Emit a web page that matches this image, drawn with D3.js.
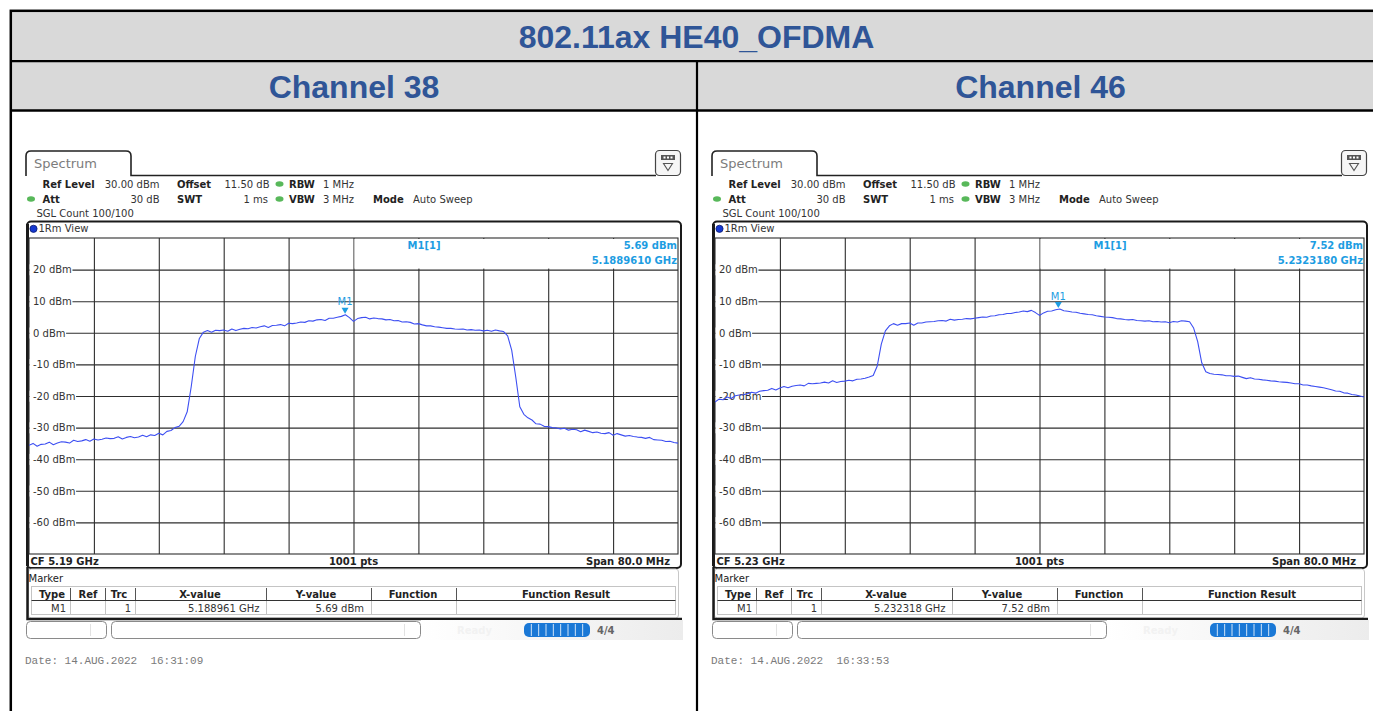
<!DOCTYPE html>
<html>
<head>
<meta charset="utf-8">
<script src="https://cdn.jsdelivr.net/npm/d3@7"></script>
<style>
    html, body { margin: 0; padding: 0; background: #fff; }
    svg { display: block; }
    .ui { font-family: "DejaVu Sans", Verdana, sans-serif; font-size: 10px; fill: #333; }
    .b { font-family: "DejaVu Sans", Verdana, sans-serif; font-size: 10px; font-weight: bold; fill: #222; }
    .mk { font-family: "DejaVu Sans", Verdana, sans-serif; font-size: 10px; font-weight: bold; fill: #1d9de2; }
    .date { font-family: "Liberation Mono", "DejaVu Sans Mono", monospace; font-size: 11px; fill: #7a7a7a; white-space: pre; }
    .head { font-family: "Liberation Sans", Arial, sans-serif; font-weight: bold; font-size: 32px; fill: #2f5597; }
</style>
</head>
<body>
<svg id="page" width="1373" height="711"></svg>
<script>
    // ---- chart data ----
    const pageTitle = "802.11ax HE40_OFDMA";
    const channelNames = ["Channel 38", "Channel 46"];
    const centerFreqsGHz = [5.19, 5.23];
    const spanMHz = 80;
    const sweepPoints = 1001;
    const traceStepMHz = 0.5;   // trace values below are read every 0.5 MHz from -40 to +40 MHz

    const ch38Level = [
        -35.6, -35.0, -35.9, -35.3, -35.2, -34.6, -35.4, -34.9, -34.5, -34.6,
        -34.9, -34.0, -34.4, -34.2, -33.8, -34.3, -33.6, -33.9, -33.7, -33.3,
        -33.5, -33.4, -32.9, -33.6, -33.1, -32.8, -33.2, -33.0, -32.4, -32.9,
        -32.3, -32.5, -31.8, -32.3, -31.2, -30.9, -30.0, -29.6, -28.1, -25.0,
        -17.0, -7.5, -1.8, 0.2, 0.7, 0.2, 0.8, 0.7, 0.9, 0.5,
        1.2, 0.7, 1.1, 1.4, 1.3, 1.7, 1.5, 1.9, 2.2, 1.7,
        2.3, 2.4, 2.6, 2.2, 3.0, 2.9, 3.1, 3.4, 3.3, 3.8,
        3.7, 4.1, 4.2, 3.9, 4.6, 4.6, 4.9, 5.2, 5.69, 4.8,
        3.6, 4.5, 4.8, 4.9, 4.4, 4.7, 4.5, 4.4, 4.1, 4.2,
        3.8, 3.9, 3.4, 3.5, 3.3, 2.8, 2.9, 2.5, 2.2, 2.2,
        1.9, 1.8, 1.6, 1.4, 1.4, 1.2, 1.1, 1.2, 0.9, 1.0,
        0.8, 0.9, 0.6, 0.8, 0.5, 0.9, 0.6, 0.4, -1.0, -5.5,
        -14.0, -23.4, -25.8, -26.9, -27.6, -28.8, -28.9, -29.6, -29.7, -30.0,
        -30.1, -30.4, -30.2, -30.8, -30.5, -30.7, -31.3, -30.8, -31.2, -31.6,
        -31.4, -31.8, -31.9, -31.6, -32.4, -31.9, -32.3, -32.7, -32.5, -32.8,
        -33.0, -33.1, -33.4, -33.1, -33.8, -33.9, -34.0, -34.4, -34.3, -34.7,
        -34.9
    ];

    const ch46Level = [
        -21.9, -21.0, -21.2, -20.3, -20.8, -19.9, -19.7, -19.6, -19.3, -18.8,
        -19.1, -18.5, -18.3, -18.2, -17.6, -18.1, -17.5, -17.0, -17.4, -16.9,
        -16.7, -16.5, -16.8, -16.0, -16.1, -16.0, -15.9, -15.6, -15.9, -15.2,
        -15.7, -15.4, -15.3, -15.0, -15.2, -14.7, -14.6, -14.4, -14.0, -13.5,
        -10.5, -3.6, 0.6, 2.2, 2.9, 2.4, 2.9, 2.9, 3.1, 2.4,
        3.1, 3.1, 3.4, 3.5, 3.6, 3.8, 3.9, 3.7, 4.3, 4.0,
        4.2, 4.3, 4.5, 4.4, 4.6, 4.8, 5.0, 4.9, 5.3, 5.4,
        5.7, 5.8, 6.1, 6.1, 6.4, 6.6, 6.9, 6.7, 7.1, 6.4,
        5.5, 6.3, 6.8, 6.9, 7.3, 7.52, 7.0, 6.8, 6.6, 6.5,
        6.2, 6.0, 5.8, 5.7, 5.4, 5.2, 5.0, 4.9, 4.8, 4.5,
        4.4, 4.2, 4.1, 4.2, 3.9, 3.8, 3.7, 3.8, 3.5, 3.6,
        3.4, 3.5, 3.2, 3.6, 3.4, 3.8, 3.7, 3.5, 1.5, -2.8,
        -9.5, -12.3, -12.9, -13.1, -13.2, -13.3, -13.6, -13.6, -13.8, -13.7,
        -14.1, -14.5, -14.2, -14.6, -14.7, -14.9, -15.0, -15.2, -15.3, -15.5,
        -15.6, -15.7, -15.9, -16.1, -16.1, -16.5, -16.5, -16.8, -17.0, -17.2,
        -17.4, -17.7, -18.0, -18.4, -18.5, -19.0, -19.1, -19.5, -19.7, -20.0,
        -20.3
    ];

    const markerFreqsGHz = [5.188961, 5.232318];
    const markerLevels = [5.69, 7.52];
    const sweepDates = ["14.AUG.2022  16:31:09", "14.AUG.2022  16:33:53"];
    const yDomain = [-70, 30];
    const yTickValues = [20, 10, 0, -10, -20, -30, -40, -50, -60];

    const traceColor = "#3d4ff2";
    const gridColor = "#2e2e2e";

    const svg = d3.select("#page");

    function text(g, x, y, s, cls, anchor) {
        return g.append("text")
            .attr("x", x).attr("y", y).attr("dy", "0.35em")
            .attr("class", cls)
            .attr("text-anchor", anchor || "start")
            .text(s);
    }

    function greenDot(g, cx, cy) {
        g.append("ellipse").attr("cx", cx).attr("cy", cy).attr("rx", 4).attr("ry", 2.8)
            .attr("fill", "#58b85a");
    }

    // ---- page table ----
    function drawPage() {
        svg.append("rect").attr("x", 11).attr("y", 11).attr("width", 1380).attr("height", 99)
            .attr("fill", "#d9d9d9");
        svg.append("rect").attr("x", 10.8).attr("y", 10.8).attr("width", 1380).attr("height", 720)
            .attr("fill", "none").attr("stroke", "#000").attr("stroke-width", 2.5);
        svg.append("line").attr("x1", 10).attr("x2", 1390).attr("y1", 61.2).attr("y2", 61.2)
            .attr("stroke", "#000").attr("stroke-width", 2.2);
        svg.append("line").attr("x1", 10).attr("x2", 1390).attr("y1", 110.5).attr("y2", 110.5)
            .attr("stroke", "#000").attr("stroke-width", 2.4);
        svg.append("line").attr("x1", 697).attr("x2", 697).attr("y1", 61).attr("y2", 711)
            .attr("stroke", "#000").attr("stroke-width", 2.2);

        svg.append("text").attr("class", "head").attr("x", 696.5).attr("y", 47.5)
            .attr("text-anchor", "middle").text(pageTitle);
        svg.append("text").attr("class", "head").attr("x", 354).attr("y", 97.5)
            .attr("text-anchor", "middle").text(channelNames[0]);
        svg.append("text").attr("class", "head").attr("x", 1040.5).attr("y", 97.5)
            .attr("text-anchor", "middle").text(channelNames[1]);
    }

    // ---- one analyzer screenshot ----
    function drawPanel(ox, idx) {
        const g = svg.append("g").attr("transform", "translate(" + ox + ",0)");
        const cf = centerFreqsGHz[idx];
        const levels = idx === 0 ? ch38Level : ch46Level;
        const f0 = cf - spanMHz / 2000, f1 = cf + spanMHz / 2000;

        const x = d3.scaleLinear().domain([f0, f1]).range([29, 678]);
        const y = d3.scaleLinear().domain(yDomain).range([554, 238]);

        // tab + header line
        g.append("path")
            .attr("d", "M26,176 L26,156 Q26,151 31,151 L126,151 Q131,151 131,156 L131,175.5 L656,175.5")
            .attr("fill", "none").attr("stroke", "#222").attr("stroke-width", 1.6);
        g.append("text").attr("x", 34).attr("y", 163).attr("dy", "0.35em")
            .attr("class", "ui").style("font-size", "13px").style("fill", "#7c7c7c").text("Spectrum");

        // menu icon
        g.append("rect").attr("x", 655.5).attr("y", 150.5).attr("width", 25).attr("height", 25).attr("rx", 4)
            .attr("fill", "#f6f6f6").attr("stroke", "#444").attr("stroke-width", 1.2);
        g.append("rect").attr("x", 661).attr("y", 155).attr("width", 14).attr("height", 5).attr("fill", "#555");
        [663.5, 667, 670.5].forEach(cx => g.append("rect").attr("x", cx).attr("y", 156.5)
            .attr("width", 2).attr("height", 2).attr("fill", "#fff"));
        g.append("path").attr("d", "M663.5,163.5 L672.5,163.5 L668,170.5 Z")
            .attr("fill", "none").attr("stroke", "#555").attr("stroke-width", 1.1);

        // settings block
        text(g, 42.5, 184, "Ref Level", "b");
        text(g, 159.5, 184, "30.00 dBm", "ui", "end");
        text(g, 177, 184, "Offset", "b");
        text(g, 269.5, 184, "11.50 dB", "ui", "end");
        greenDot(g, 279.5, 184);
        text(g, 289, 184, "RBW", "b");
        text(g, 323, 184, "1 MHz", "ui");

        greenDot(g, 31, 199);
        text(g, 42.5, 199, "Att", "b");
        text(g, 159.5, 199, "30 dB", "ui", "end");
        text(g, 177, 199, "SWT", "b");
        text(g, 268, 199, "1 ms", "ui", "end");
        greenDot(g, 279.5, 199);
        text(g, 289, 199, "VBW", "b");
        text(g, 323, 199, "3 MHz", "ui");
        text(g, 373, 199, "Mode", "b");
        text(g, 413, 199, "Auto Sweep", "ui");

        text(g, 36.5, 213.5, "SGL Count 100/100", "ui");

        // plot window frame
        g.append("rect").attr("x", 27).attr("y", 221.5).attr("width", 654).attr("height", 346.5).attr("rx", 4)
            .attr("fill", "#fff").attr("stroke", "#1a1a1a").attr("stroke-width", 2);
        g.append("line").attr("x1", 27.5).attr("x2", 27.5).attr("y1", 224).attr("y2", 566)
            .attr("stroke", "#1a1a1a").attr("stroke-width", 3);
        g.append("circle").attr("cx", 33.5).attr("cy", 228.8).attr("r", 3.6)
            .attr("fill", "#1538d0").attr("stroke", "#0a1a70").attr("stroke-width", 0.8);
        text(g, 38.5, 228.8, "1Rm View", "ui");

        // grid
        const xGrid = d3.range(1, 10).map(i => f0 + i * (f1 - f0) / 10);
        g.append("g").attr("transform", "translate(0,554)")
            .call(d3.axisBottom(x).tickValues(xGrid).tickSize(-316).tickFormat(""))
            .call(a => a.select(".domain").remove())
            .selectAll("line").attr("stroke", gridColor).attr("stroke-width", 1.1);
        g.append("g").attr("transform", "translate(29,0)")
            .call(d3.axisLeft(y).tickValues(yTickValues).tickSize(-649).tickFormat(""))
            .call(a => a.select(".domain").remove())
            .selectAll("line").attr("stroke", gridColor).attr("stroke-width", 1.1);
        g.append("rect").attr("x", 29).attr("y", 238).attr("width", 649).attr("height", 316)
            .attr("fill", "none").attr("stroke", gridColor).attr("stroke-width", 1.1);

        // marker readout area covers the upper right cell
        g.append("rect").attr("x", x(cf) + 1).attr("y", 239).attr("width", 678 - x(cf) - 2)
            .attr("height", y(20) - 240).attr("fill", "#fff");
        text(g, x(cf) + 70.5, 245, "M1[1]", "mk", "middle");
        text(g, 677, 245, markerLevels[idx].toFixed(2) + " dBm", "mk", "end");
        text(g, 677, 260, markerFreqsGHz[idx].toFixed(7) + " GHz", "mk", "end");

        // level labels inside the grid
        const yAx = g.append("g").attr("transform", "translate(29,0)")
            .call(d3.axisRight(y).tickValues(yTickValues).tickSize(0).tickPadding(4)
                .tickFormat(d => d + " dBm"));
        yAx.select(".domain").remove();
        yAx.selectAll(".tick line").remove();
        yAx.selectAll(".tick text")
            .attr("class", "ui").attr("fill", null).style("fill", "#333");
        yAx.attr("font-size", null).attr("font-family", null);
        yAx.selectAll(".tick").each(function () {
            const t = d3.select(this).select("text");
            const bb = t.node().getBBox();
            d3.select(this).insert("rect", "text")
                .attr("x", 0.6).attr("y", bb.y).attr("width", bb.x + bb.width).attr("height", bb.height)
                .attr("fill", "#fff");
        });

        // trace
        const clipId = "clip" + idx;
        g.append("clipPath").attr("id", clipId).append("rect")
            .attr("x", 29).attr("y", 238).attr("width", 649).attr("height", 316);
        const line = d3.line()
            .x((d, i) => x(f0 + i * traceStepMHz / 1000))
            .y(d => y(d));
        g.append("path").datum(levels)
            .attr("clip-path", "url(#" + clipId + ")")
            .attr("d", line)
            .attr("fill", "none").attr("stroke", traceColor).attr("stroke-width", 1.1)
            .attr("stroke-linejoin", "round");

        // marker
        const mx = x(markerFreqsGHz[idx]), my = y(markerLevels[idx]);
        g.append("path").attr("d", `M${mx - 3.5},${my - 7} L${mx + 3.5},${my - 7} L${mx},${my - 1} Z`)
            .attr("fill", "#1d9de2");
        g.append("text").attr("x", mx).attr("y", my - 13).attr("dy", "0.35em")
            .attr("class", "mk").style("font-weight", "normal").attr("text-anchor", "middle").text("M1");

        // sweep footer
        text(g, 30.5, 561, "CF " + cf.toFixed(2) + " GHz", "b");
        text(g, x(cf), 561, sweepPoints + " pts", "b", "middle");
        text(g, 670, 561, "Span " + spanMHz.toFixed(1) + " MHz", "b", "end");

        // marker table
        g.append("rect").attr("x", 28.5).attr("y", 569).attr("width", 650).attr("height", 49).attr("rx", 3)
            .attr("fill", "#fff").attr("stroke", "#c8c8c8");
        g.append("path").attr("d", "M27.5,567 L27.5,619 L682,619")
            .attr("fill", "none").attr("stroke", "#1a1a1a").attr("stroke-width", 2.5);
        text(g, 28.5, 578.5, "Marker", "ui").style("fill", "#222");

        g.append("rect").attr("x", 31.5).attr("y", 586.5).attr("width", 644).attr("height", 28)
            .attr("fill", "none").attr("stroke", "#c4c4c4");
        g.append("line").attr("x1", 31.5).attr("x2", 675.5).attr("y1", 600.5).attr("y2", 600.5)
            .attr("stroke", "#333").attr("stroke-width", 1.2);
        const seps = [70.5, 105.5, 135.5, 266.5, 371.5, 456.5];
        seps.forEach(sx => {
            g.append("line").attr("x1", sx).attr("x2", sx).attr("y1", 588).attr("y2", 600)
                .attr("stroke", "#555");
            g.append("line").attr("x1", sx).attr("x2", sx).attr("y1", 601).attr("y2", 614)
                .attr("stroke", "#c4c4c4");
        });
        const heads = [["Type", 52], ["Ref", 88], ["Trc", 119], ["X-value", 200], ["Y-value", 316],
            ["Function", 413], ["Function Result", 566]];
        heads.forEach(h => text(g, h[1], 594, h[0], "b", "middle"));
        text(g, 66, 608, "M1", "ui", "end");
        text(g, 131, 608, "1", "ui", "end");
        text(g, 259.5, 608, markerFreqsGHz[idx].toFixed(6) + " GHz", "ui", "end");
        text(g, 364, 608, markerLevels[idx].toFixed(2) + " dBm", "ui", "end");

        // status bar
        const gradId = "sb" + idx;
        const grad = g.append("linearGradient").attr("id", gradId);
        grad.append("stop").attr("offset", "0%").attr("stop-color", "#fff");
        grad.append("stop").attr("offset", "100%").attr("stop-color", "#ececec");
        g.append("rect").attr("x", 421).attr("y", 620).attr("width", 262).attr("height", 20)
            .attr("fill", "url(#" + gradId + ")");
        g.append("rect").attr("x", 26.5).attr("y", 621.5).attr("width", 80).attr("height", 17).attr("rx", 4)
            .attr("fill", "#fff").attr("stroke", "#8a8a8a");
        g.append("line").attr("x1", 90.5).attr("x2", 90.5).attr("y1", 624).attr("y2", 636).attr("stroke", "#e2e2e2");
        g.append("rect").attr("x", 111.5).attr("y", 621.5).attr("width", 309).attr("height", 17).attr("rx", 4)
            .attr("fill", "#fff").attr("stroke", "#8a8a8a");
        g.append("line").attr("x1", 404.5).attr("x2", 404.5).attr("y1", 624).attr("y2", 636).attr("stroke", "#e2e2e2");
        text(g, 457, 630, "Ready", "b").style("fill", "#f2f2f2");
        g.append("rect").attr("x", 524).attr("y", 623).attr("width", 66).attr("height", 14).attr("rx", 5)
            .attr("fill", "#1a78d6");
        d3.range(1, 9).forEach(k => g.append("line")
            .attr("x1", 524 + k * 66 / 9).attr("x2", 524 + k * 66 / 9).attr("y1", 624).attr("y2", 636)
            .attr("stroke", "#cfe3f7").attr("stroke-width", 1));
        text(g, 597, 630, "4/4", "b").style("fill", "#666");

        // date stamp
        g.append("text").attr("class", "date").attr("x", 25).attr("y", 660).attr("dy", "0.35em")
            .attr("xml:space", "preserve")
            .text("Date: " + sweepDates[idx]);
    }

    drawPage();
    drawPanel(0, 0);
    drawPanel(686, 1);
</script>
</body>
</html>
